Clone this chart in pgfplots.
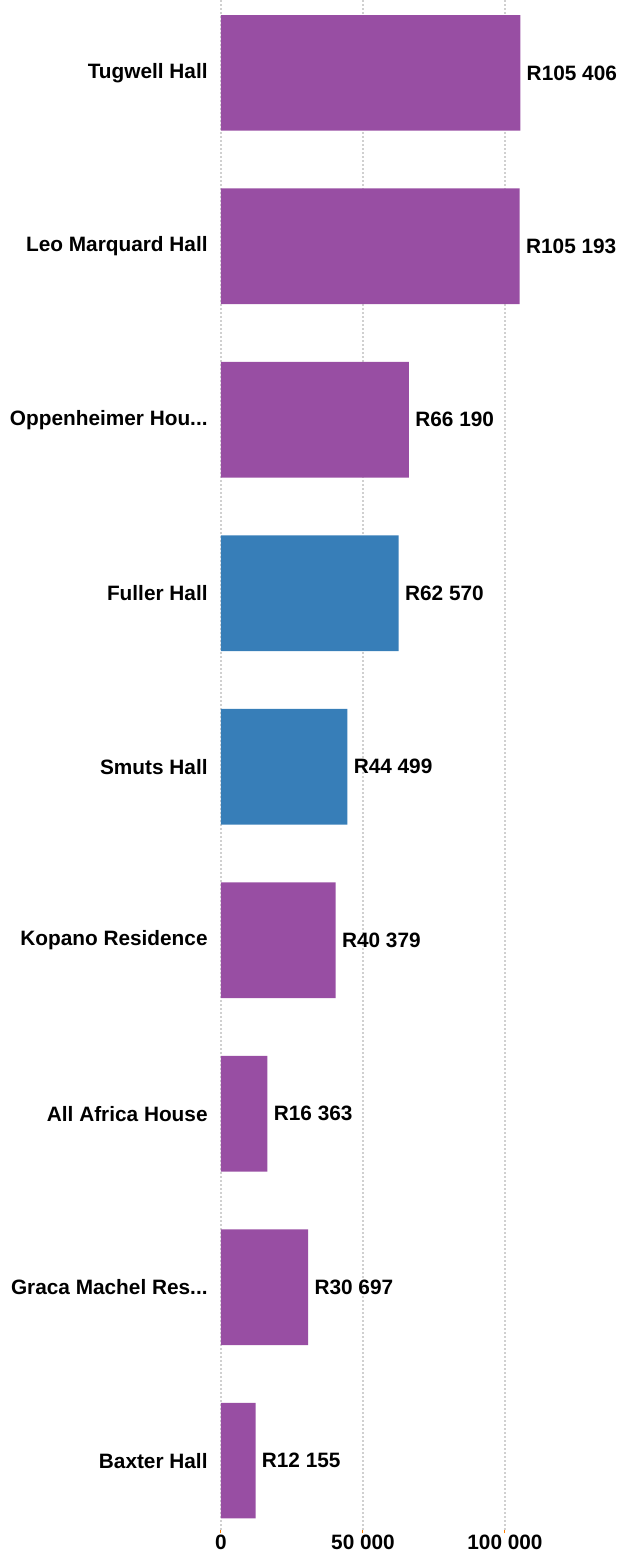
\documentclass[border=0pt]{standalone}
\usepackage{fontspec}
\setmainfont{Liberation Sans}
\usepackage{pgfplots}
\pgfplotsset{compat=1.18}
\definecolor{respurple}{HTML}{984EA3}
\definecolor{resblue}{HTML}{377EB8}
\definecolor{gridgrey}{HTML}{D0D0D0}
\newcommand{\lblfont}{\bfseries\fontsize{10.4}{12}\selectfont}
\newcommand{\trunc}{...}
\begin{document}
\begin{tikzpicture}[x=1pt,y=1pt]
\useasboundingbox (-110.5,-15) rectangle (199,765);
\begin{axis}[
    at={(0,0)}, anchor=south west,
    scale only axis, width=156.2pt, height=765pt,
    xbar, bar shift=0pt, bar width=0.667,
    xmin=0, xmax=110000,
    ymin=-0.42, ymax=8.4, y dir=reverse,
    clip=false,
    axis line style={draw=none},
    xtick={0,50000,100000},
    xticklabels={0,50 000,100 000},
    xtick pos=bottom,
    tick align=outside,
    major tick length=1.5pt,
    xtick style={draw=orange, line width=0.5pt},
    xticklabel style={font=\lblfont, inner sep=0pt, yshift=-1pt},
    ytick={0,1,2,3,4,5,6,7,8},
    yticklabels={Tugwell Hall,Leo Marquard Hall,Oppenheimer Hou\trunc,Fuller Hall,Smuts Hall,Kopano Residence,All Africa House,Graca Machel Res\trunc,Baxter Hall},
    ytick style={draw=none},
    yticklabel style={font=\lblfont, inner sep=0pt, xshift=-5pt},
    xmajorgrids,
    grid style={gridgrey, dash pattern=on 1.2pt off 0.8pt, line width=0.6pt},
    point meta=explicit symbolic,
    nodes near coords,
    nodes near coords style={anchor=west, font=\lblfont, inner sep=0pt, xshift=3pt, text=black},
]
\addplot[fill=respurple, draw=none] coordinates {
    (105406,0) [R105 406]
    (105193,1) [R105 193]
    (66190,2)  [R66 190]
    (40379,5)  [R40 379]
    (16363,6)  [R16 363]
    (30697,7)  [R30 697]
    (12155,8)  [R12 155]
};
\addplot[fill=resblue, draw=none] coordinates {
    (62570,3) [R62 570]
    (44499,4) [R44 499]
};
\end{axis}
\end{tikzpicture}
\end{document}
